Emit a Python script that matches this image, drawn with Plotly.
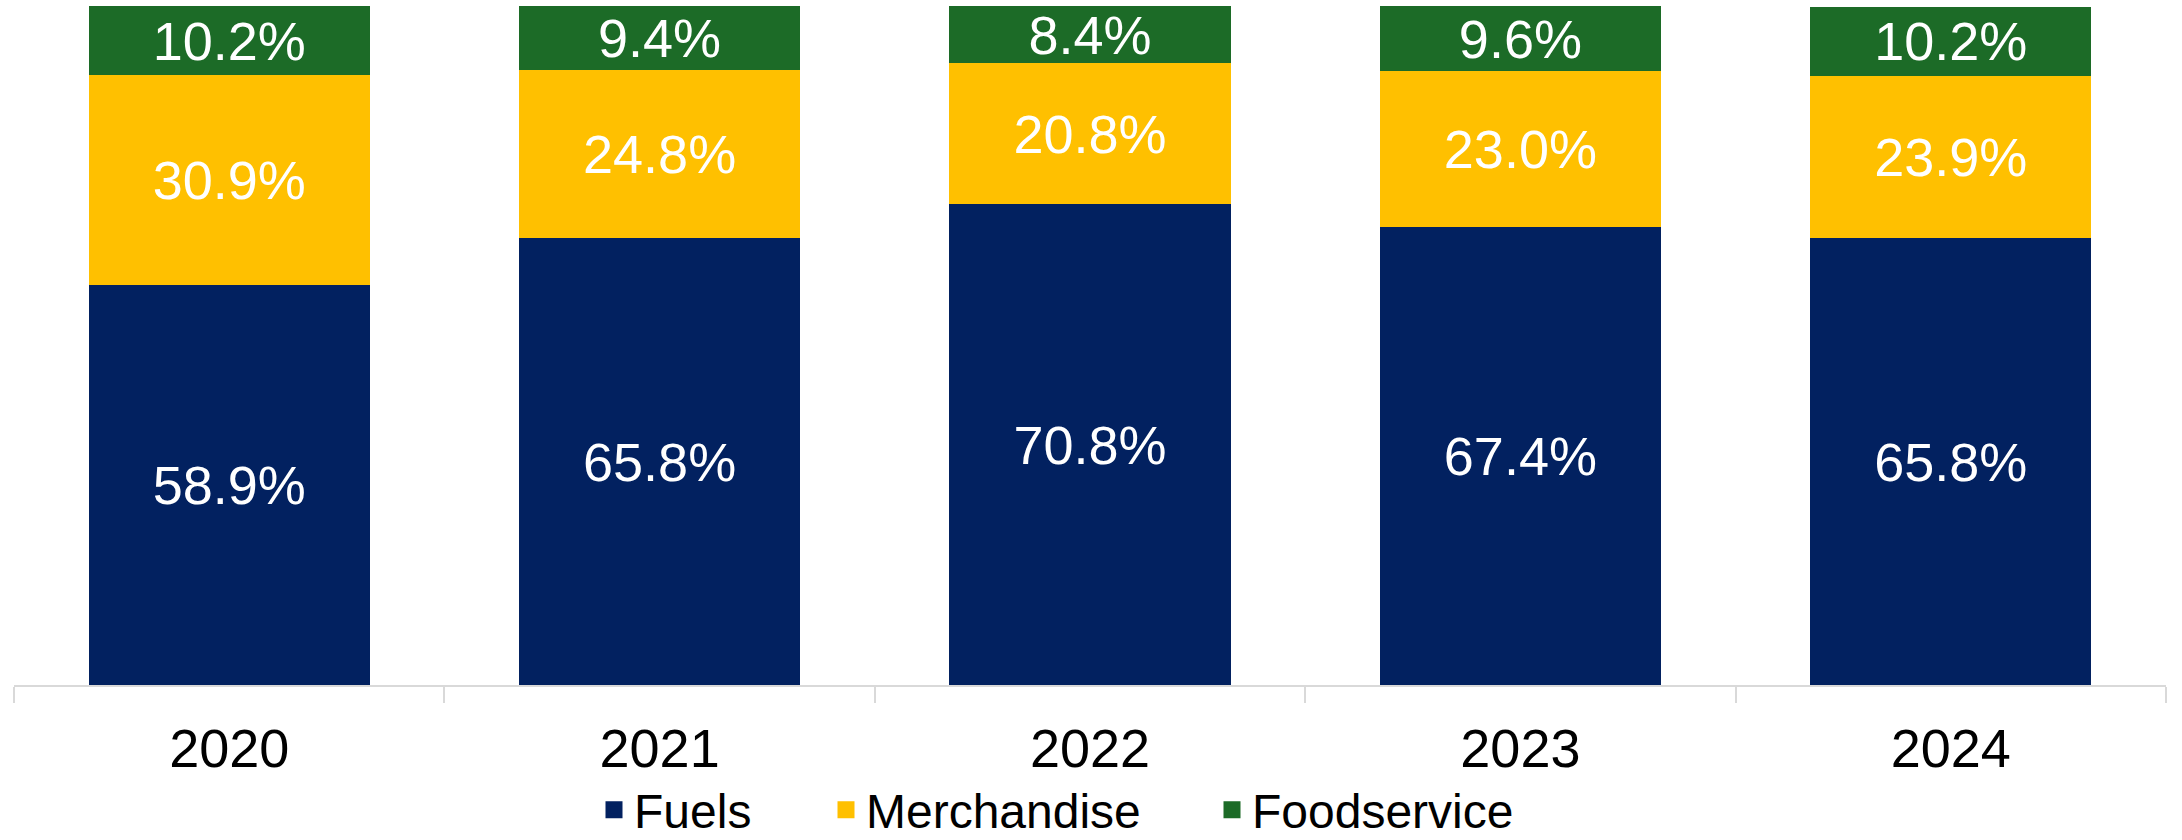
import plotly.graph_objects as go

years = ["2020", "2021", "2022", "2023", "2024"]
fuels = [58.9, 65.8, 70.8, 67.4, 65.8]
merchandise = [30.9, 24.8, 20.8, 23.0, 23.9]
foodservice = [10.2, 9.4, 8.4, 9.6, 10.2]

series = [
    ("Fuels", fuels, "#022160", "legend"),
    ("Merchandise", merchandise, "#FFC000", "legend2"),
    ("Foodservice", foodservice, "#1C6B27", "legend3"),
]

FONT = "Liberation Sans, Arial, sans-serif"

fig = go.Figure()
for name, vals, color, lg in series:
    fig.add_trace(go.Bar(
        x=years, y=vals, name=name,
        marker=dict(color=color, line=dict(width=0)),
        texttemplate="%{y:.1f}%", textposition="inside",
        insidetextanchor="middle",
        textfont=dict(color="white", size=54, family=FONT),
        showlegend=False,
    ))
# legend-only entries (no visible marks) with enlarged swatches
for name, vals, color, lg in series:
    fig.add_trace(go.Bar(
        x=[None], y=[None], name=name, legend=lg,
        marker=dict(color=color, line=dict(width=13, color=color)),
        showlegend=True, hoverinfo="skip",
    ))

def legend_cfg(px):
    return dict(
        orientation="h", xref="container", yref="container",
        x=px / 2182, xanchor="left", y=1 - 810 / 840, yanchor="middle",
        font=dict(size=48, family=FONT, color="black"),
        bgcolor="rgba(0,0,0,0)", borderwidth=0, itemclick=False,
    )

fig.update_layout(
    barmode="stack",
    bargap=0.347,
    width=2182, height=840,
    margin=dict(l=14, r=16, t=6, b=155, autoexpand=False),
    plot_bgcolor="white", paper_bgcolor="white",
    font=dict(family=FONT, color="black"),
    uniformtext=dict(minsize=54, mode="show"),
    showlegend=True,
    legend=legend_cfg(594),
    legend2=legend_cfg(826),
    legend3=legend_cfg(1212),
)
fig.update_xaxes(
    showline=True, linecolor="#D9D9D9", linewidth=2,
    ticks="outside", tickson="boundaries", ticklen=16, tickcolor="#D9D9D9", tickwidth=2,
    tickfont=dict(size=54, family=FONT, color="black"),
    ticklabelstandoff=15,
    showgrid=False,
)
fig.update_yaxes(range=[0, 100], visible=False, showgrid=False)

fig.write_html("out.html", config={"displayModeBar": False},
               post_script="document.body.style.margin='0';")
